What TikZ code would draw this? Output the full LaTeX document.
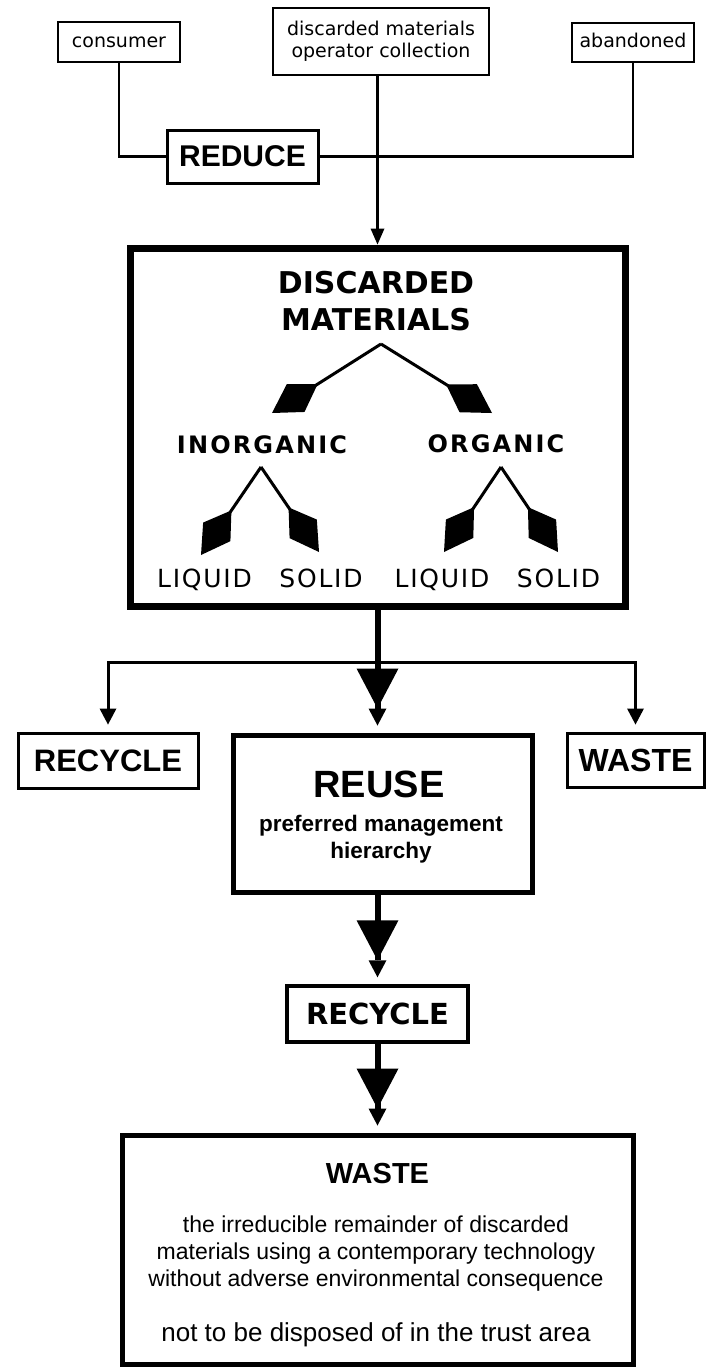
\documentclass[tikz,border=0pt]{standalone}
\usepackage{fontspec}
\setmainfont{Liberation Sans}
\newfontfamily\vera{DejaVu Sans}
\usetikzlibrary{arrows.meta}

\begin{document}
\begin{tikzpicture}[x=1pt, y=-1pt,
    srcbox/.style={draw, line width=2pt, inner sep=0pt, align=center,
      font=\vera\fontsize{19}{22.5}\selectfont},
    oneline/.style={text height=14pt, text depth=4pt},
    optbox/.style={draw, line width=3pt, inner sep=0pt,
      font=\bfseries\fontsize{31}{34}\selectfont},
    bigbox/.style={draw, line width=#1, inner sep=0pt},
    feed/.style={line width=2.5pt},
    tree/.style={line width=3pt,
      -{Kite[length=54pt, width=33pt, inset=26pt, line width=0pt]}},
    branch/.style={line width=3pt,
      -{Triangle[width=17pt, length=16pt, line width=0pt]}, shorten >=7pt},
    flow/.style={line width=6pt,
      -{Triangle[width=42pt, length=40pt, line width=0pt]
        Triangle[width=18pt, length=17pt, line width=0pt]}, shorten >=7pt},
    head/.style={inner sep=0pt, anchor=base,
      font=\vera\bfseries\fontsize{30}{34}\selectfont},
    kind/.style={inner sep=0pt, anchor=base,
      font=\vera\bfseries\fontsize{24}{28}\selectfont\addfontfeature{LetterSpace=9}},
    state/.style={inner sep=0pt, anchor=base,
      font=\vera\fontsize{25}{29}\selectfont\addfontfeature{LetterSpace=7}},
    note/.style={inner sep=0pt, anchor=base, font=\fontsize{23}{27}\selectfont}]
    \useasboundingbox[fill=white] (0,0) rectangle (709,1368);

    % sources
    \node[srcbox, oneline, minimum width=122pt, minimum height=40pt] (consumer) at (119,42) {consumer};
    \node[srcbox, minimum width=216pt, minimum height=67pt] (collect) at (381,41.5) {discarded materials\\operator collection};
    \node[srcbox, oneline, minimum width=122pt, minimum height=39pt] (abandoned) at (633,42.5) {abandoned};
    \node[optbox, minimum width=151pt, minimum height=53pt, font=\bfseries\fontsize{30}{33}\selectfont] (reduce) at (242.5,156.5) {REDUCE};

    % discarded materials
    \node[bigbox=7pt, minimum width=495pt, minimum height=358pt] (discarded) at (377.5,427) {};
    \node[head] (headA) at (376,293) {DISCARDED};
    \node[head] (headB) at (376,330) {MATERIALS};
    \node[kind] (inorganic) at (262,453) {INORGANIC};
    \node[kind] (organic) at (496,452) {ORGANIC};
    \node[state] (liquidA) at (204.5,587) {LIQUID};
    \node[state] (solidA) at (321,587) {SOLID};
    \node[state] (liquidB) at (442,587) {LIQUID};
    \node[state] (solidB) at (558.5,587) {SOLID};
    \coordinate (topFork) at (381,344);
    \coordinate (inFork) at (261,467);
    \coordinate (orFork) at (501,467);
    \coordinate (toInorg) at (272,413);
    \coordinate (toOrg) at (492,413);
    \coordinate (toLiqA) at (201,555);
    \coordinate (toSolA) at (319,552);
    \coordinate (toLiqB) at (444,552);
    \coordinate (toSolB) at (558,552);
    \draw[tree] (topFork) -- (toInorg);
    \draw[tree] (topFork) -- (toOrg);
    \draw[tree] (inFork) -- (toLiqA);
    \draw[tree] (inFork) -- (toSolA);
    \draw[tree] (orFork) -- (toLiqB);
    \draw[tree] (orFork) -- (toSolB);

    % options
    \node[optbox, minimum width=180pt, minimum height=55pt] (recycleL) at (108,760.5) {RECYCLE};
    \node[optbox, minimum width=137pt, minimum height=54pt, font=\bfseries\fontsize{32}{35}\selectfont] (wasteR) at (635.5,760) {WASTE};
    \node[bigbox=5pt, minimum width=299pt, minimum height=157pt] (reuse) at (382.5,813.5) {};
    \node[anchor=base, inner sep=0pt, font=\bfseries\fontsize{38}{42}\selectfont] (reuseT) at (379,797) {REUSE};
    \node[anchor=base, inner sep=0pt, font=\bfseries\fontsize{22.5}{27}\selectfont] (prefA) at (381,831) {preferred management};
    \node[anchor=base, inner sep=0pt, font=\bfseries\fontsize{22.5}{27}\selectfont] (prefB) at (381,858) {hierarchy};
    \node[bigbox=3.5pt, minimum width=181pt, minimum height=56pt, font=\vera\bfseries\fontsize{29}{32}\selectfont] (recycleM) at (377.5,1014) {RECYCLE};

    % waste
    \node[bigbox=5pt, minimum width=511pt, minimum height=229pt] (waste) at (377.5,1249.5) {};
    \node[anchor=base, inner sep=0pt, font=\bfseries\fontsize{29}{33}\selectfont] (wasteT) at (377.5,1183) {WASTE};
    \node[note] (noteA) at (376,1232) {the irreducible remainder of discarded};
    \node[note] (noteB) at (376,1259) {materials using a contemporary technology};
    \node[note] (noteC) at (376,1286) {without adverse environmental consequence};
    \node[note, font=\fontsize{26}{30}\selectfont] (noteD) at (376,1341) {not to be disposed of in the trust area};

    % connectors
    \draw[feed] (consumer.south) |- (reduce.west);
    \draw[feed] (reduce.east) -| (abandoned.south);
    \draw[feed, -{Triangle[width=14pt, length=16pt, line width=0pt]}] (collect.south -| discarded.north) -- (discarded.north);
    \coordinate (split) at (377.5,662);
    \draw[flow] (discarded.south) -- (discarded.south |- reuse.north);
    \draw[branch] (split) -| (recycleL.north);
    \draw[branch] (split) -| (wasteR.north);
    \draw[flow] (reuse.south -| recycleM.north) -- (recycleM.north);
    \draw[flow] (recycleM.south) -- (waste.north);
\end{tikzpicture}
\end{document}
